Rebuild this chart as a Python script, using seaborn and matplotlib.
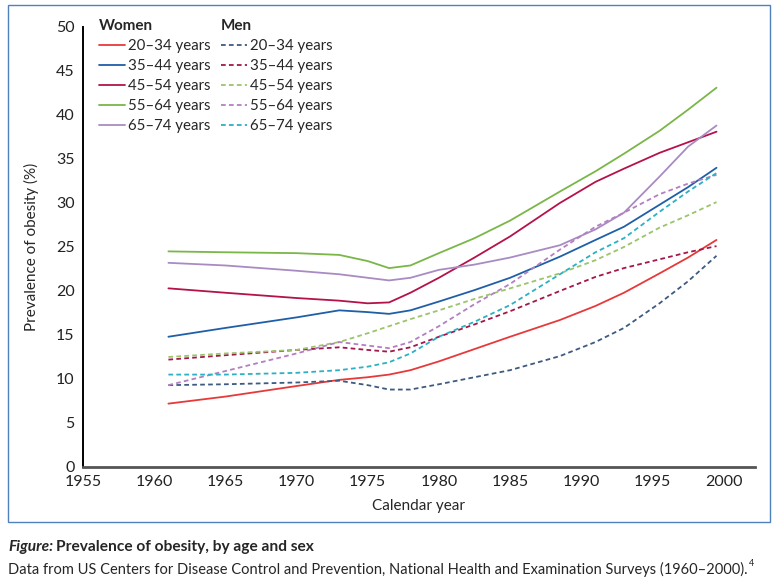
import matplotlib
matplotlib.use("Agg")
import matplotlib.pyplot as plt
from matplotlib.lines import Line2D
from matplotlib.patches import Rectangle
import pandas as pd
import seaborn as sns

# survey years
years = [1961, 1965, 1970, 1973, 1975, 1976.5, 1978, 1980, 1982.5, 1985,
         1988.5, 1991, 1993, 1995.5, 1997.5, 1999.5]
age_groups = ["20–34 years", "35–44 years", "45–54 years", "55–64 years", "65–74 years"]

women_20_34 = [7.2, 8.0, 9.2, 9.9, 10.2, 10.5, 11.0, 12.0, 13.4, 14.8, 16.7, 18.3, 19.8, 22.0, 23.8, 25.8]
women_35_44 = [14.8, 15.8, 17.0, 17.8, 17.6, 17.4, 17.8, 18.8, 20.1, 21.5, 23.9, 25.8, 27.3, 29.8, 31.8, 34.0]
women_45_54 = [20.3, 19.8, 19.2, 18.9, 18.6, 18.7, 19.8, 21.5, 23.8, 26.2, 30.0, 32.4, 33.9, 35.7, 36.9, 38.1]
women_55_64 = [24.5, 24.4, 24.3, 24.1, 23.4, 22.6, 22.9, 24.3, 26.0, 28.0, 31.3, 33.6, 35.6, 38.2, 40.6, 43.1]
women_65_74 = [23.2, 22.9, 22.3, 21.9, 21.5, 21.2, 21.5, 22.4, 23.0, 23.8, 25.2, 27.0, 28.9, 33.0, 36.4, 38.8]

men_20_34 = [9.3, 9.4, 9.6, 9.8, 9.3, 8.8, 8.8, 9.4, 10.2, 11.0, 12.6, 14.2, 15.8, 18.6, 21.1, 24.0]
men_35_44 = [12.2, 12.7, 13.3, 13.6, 13.3, 13.1, 13.6, 14.8, 16.2, 17.7, 20.0, 21.6, 22.6, 23.6, 24.4, 25.1]
men_45_54 = [12.5, 12.9, 13.3, 14.2, 15.2, 16.0, 16.8, 17.8, 19.1, 20.3, 22.0, 23.5, 25.0, 27.2, 28.6, 30.1]
men_55_64 = [9.3, 10.9, 12.9, 14.2, 13.8, 13.5, 14.2, 16.0, 18.5, 20.8, 24.7, 27.3, 28.9, 31.0, 32.2, 33.2]
men_65_74 = [10.5, 10.5, 10.7, 11.0, 11.4, 11.9, 12.9, 14.8, 16.5, 18.4, 21.9, 24.4, 26.0, 29.0, 31.3, 33.4]

women_colors = ["#e8393a", "#1f5fa8", "#b5124a", "#7ab648", "#a98bc3"]
men_colors = ["#3d5a80", "#a3174a", "#9bc46b", "#b37fc0", "#2bb0c4"]

women = [women_20_34, women_35_44, women_45_54, women_55_64, women_65_74]
men = [men_20_34, men_35_44, men_45_54, men_55_64, men_65_74]

rows = []
for sex, groups in (("Women", women), ("Men", men)):
    for age, vals in zip(age_groups, groups):
        for yr, v in zip(years, vals):
            rows.append({"year": yr, "value": v, "sex": sex, "series": f"{sex} {age}"})
df = pd.DataFrame(rows)

palette = {}
for age, c in zip(age_groups, women_colors):
    palette[f"Women {age}"] = c
for age, c in zip(age_groups, men_colors):
    palette[f"Men {age}"] = c

sns.set_style("white")
plt.rcParams["font.family"] = ["Lato", "DejaVu Sans"]

fig = plt.figure(figsize=(7.75, 5.83), dpi=100)
ax = fig.add_axes([0.1071, 0.199, 0.867, 0.7547])

dash = (2.6, 1.8)
sns.lineplot(data=df, x="year", y="value", hue="series", style="sex",
             palette=palette, dashes={"Women": "", "Men": dash},
             linewidth=1.3, legend=False, ax=ax, sort=False, estimator=None)

ax.set_xlim(1955, 2002.2)
ax.set_ylim(0, 50)
ax.set_xticks(range(1955, 2001, 5))
ax.set_yticks(range(0, 51, 5))
ax.tick_params(axis="both", direction="out", length=5, width=1.2, labelsize=11.5,
               colors="#222222", pad=1)
ax.tick_params(axis="y", color="black")
ax.tick_params(axis="x", color="#555555")
for side in ("top", "right"):
    ax.spines[side].set_visible(False)
ax.spines["left"].set_color("black")
ax.spines["left"].set_linewidth(1.4)
ax.spines["bottom"].set_color("#555555")
ax.spines["bottom"].set_linewidth(2)
ax.set_xlabel("Calendar year", fontsize=11, labelpad=7)
ax.set_ylabel("Prevalence of obesity (%)", fontsize=11, labelpad=12)

# legends: two columns, women solid and men dashed
w_handles = [Line2D([], [], color=c, lw=1.3) for c in women_colors]
m_handles = [Line2D([], [], color=c, lw=1.3, dashes=dash) for c in men_colors]
leg_kw = dict(frameon=False, fontsize=10.8, handlelength=1.75, handletextpad=0.2,
              labelspacing=0.4, borderaxespad=0, borderpad=0, alignment="left",
              bbox_transform=fig.transFigure, loc="upper left")
leg1 = fig.legend(w_handles, age_groups, title="Women",
                  bbox_to_anchor=(99 / 775, 1 - 19 / 583), **leg_kw)
leg2 = fig.legend(m_handles, age_groups, title="Men",
                  bbox_to_anchor=(221 / 775, 1 - 19 / 583), **leg_kw)
for leg in (leg1, leg2):
    leg.get_title().set_fontweight("bold")
    leg.get_title().set_fontsize(11)

# frame around the chart
fig.patches.append(Rectangle((8 / 775, 1 - 522 / 583), 762 / 775, 517 / 583,
                             transform=fig.transFigure, fill=False,
                             edgecolor="#4f81bd", linewidth=1))

# caption
fig.text(8 / 775, 1 - 547 / 583, "Figure:", fontsize=11.2, fontweight="bold",
         fontstyle="italic", va="center", ha="left")
fig.text(56 / 775, 1 - 547 / 583, "Prevalence of obesity, by age and sex",
         fontsize=11.2, fontweight="bold", va="center", ha="left")
src = fig.text(8 / 775, 1 - 569 / 583,
               "Data from US Centers for Disease Control and Prevention, National Health and "
               "Examination Surveys (1960–2000).",
               fontsize=10.5, va="center", ha="left")
fig.canvas.draw()
bb = src.get_window_extent()
fig.text((bb.x1 + 1) / 775, 1 - 563 / 583, "4", fontsize=6.5, va="center", ha="left")

fig.savefig("out.png", dpi=100)
